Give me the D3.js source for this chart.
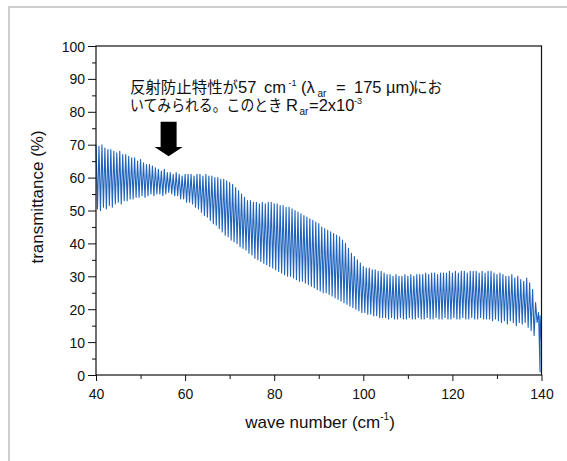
<!DOCTYPE html>
<html>
<head>
<meta charset="utf-8">
<script src="https://cdn.jsdelivr.net/npm/d3@7"></script>
<style>
  body { margin: 0; background: #fff; }
  svg text { font-family: "Liberation Sans", Arial, sans-serif; fill: #111; }
  .jp { font-family: "Noto Sans CJK JP", "Liberation Sans", sans-serif; }
</style>
</head>
<body>
<div id="visual"></div>
<script>
// transmittance spectrum
const xTicks = [40, 60, 80, 100, 120, 140],
      xMinor = [50, 70, 90, 110, 130],
      yTicks = [0, 10, 20, 30, 40, 50, 60, 70, 80, 90, 100],
      yMinor = [5, 15, 25, 35, 45, 55, 65, 75, 85, 95];

// first fringe peak and fringe spacing (cm-1)
const fringeStart = 40,
      fringeStep = 0.6667;

// fringe maxima (%)
const peakT = [
  70, 69.5, 70, 69, 68.5, 68.5, 68, 67.5, 68, 67,
  67, 66.5, 66, 66, 65, 65.5, 64.5, 64, 64, 63.5,
  63, 62.5, 62, 62.5, 61.5, 61.5, 61, 61.5, 61, 60.5,
  61, 61, 61, 60.5, 61, 61, 60.5, 61, 60.5, 60.5,
  60, 60, 59.5, 59.5, 59, 58.5, 58, 57, 56, 55,
  54, 53, 53, 52.5, 52.5, 52, 52.5, 52, 52.5, 52.5,
  52, 52, 51.5, 51.5, 51, 51, 50.5, 50, 49.5, 49,
  48.5, 48, 47.5, 47, 46.5, 46, 45, 44.5, 44, 43.5,
  43, 42.5, 42, 41, 40, 38.5, 37, 36, 35, 34,
  33, 32.5, 32.5, 32, 32, 31.5, 31.5, 31, 30.5, 30.5,
  30, 30.5, 30, 30, 30.5, 30, 30.5, 30, 30.5, 30.5,
  30.5, 31, 30.5, 31, 31, 30.5, 31, 31, 31, 31.5,
  31, 31.5, 31, 31.5, 31.5, 31, 31.5, 31.5, 31.5, 31,
  31.5, 31, 31.5, 31.5, 31, 30.5, 31, 30.5, 30, 30,
  30.5, 29.5, 30, 29, 28.5, 29.5, 28, 26, 22, 19
];

// fringe minima (%), half a fringe after each maximum
const dipT = [
  50.5, 50, 51, 50.5, 51.5, 51, 52, 52.5, 52, 53,
  53, 53.5, 53.5, 54, 54, 54.5, 54, 54.5, 55, 54.5,
  55, 55, 54.5, 55, 55.5, 55, 54.5, 54.5, 53.5, 53.5,
  52.5, 52.5, 52, 51, 50.5, 49.5, 48.5, 48, 47, 46,
  45.5, 44.5, 43.5, 42.5, 42, 41, 40.5, 40, 39, 38.5,
  38, 37, 36.5, 35.5, 35, 34.5, 34, 33.5, 33, 32.5,
  32, 31.5, 31, 30.5, 30, 30, 29.5, 29, 28.5, 28.5,
  28, 27.5, 27, 26.5, 26, 25.5, 25, 25, 24.5, 24,
  23.5, 23, 22.5, 22, 21.5, 21, 20.5, 20, 19.5, 19,
  19, 18.5, 18.5, 18, 18, 17.5, 17.5, 17.5, 17, 17.5,
  17, 17, 17.5, 17, 17, 17.5, 17, 17, 17.5, 17,
  17, 17.5, 17, 17, 17.5, 17, 17, 17.5, 17, 17,
  17.5, 17, 17, 17.5, 17, 17, 17.5, 17, 17, 17.5,
  17, 17, 17, 16.5, 17, 16.5, 16, 16.5, 15.5, 16.5,
  16, 15, 16, 15.5, 16, 14.5, 13.5, 12, 16, 1
];

// last points at the band edge
const tailWn = [139.67, 140],
      tailT = [18, 10];

const width = 567,
      height = 461,
      margin = {top: 46, right: 25.5, bottom: 86, left: 96};

const x = d3.scaleLinear().domain([40, 140]).range([margin.left, width - margin.right]);
const y = d3.scaleLinear().domain([0, 100]).range([height - margin.bottom, margin.top]);

// interleave maxima and minima into one trace
let spectrum = [];
peakT.forEach((p, i) => {
  const wn = fringeStart + i * fringeStep;
  spectrum.push([wn, p]);
  spectrum.push([wn + fringeStep / 2, dipT[i]]);
});
tailWn.forEach((wn, i) => spectrum.push([wn, tailT[i]]));

const svg = d3.select('#visual').append('svg')
  .attr('width', width).attr('height', height);

// scan border
svg.append('path')
  .attr('d', `M9,${height} V7 H${width}`)
  .attr('fill', 'none').attr('stroke', '#cfcfcf').attr('stroke-width', 2);

// trace
svg.append('path')
  .datum(spectrum)
  .attr('fill', 'none')
  .attr('stroke', '#1f63bd')
  .attr('stroke-width', 1.1)
  .attr('stroke-linejoin', 'round')
  .attr('d', d3.line().x(d => x(d[0])).y(d => y(d[1])));

// axes
const xAxis = svg.append('g')
  .attr('transform', `translate(0,${y(0)})`)
  .call(d3.axisBottom(x).tickValues(xTicks).tickSize(6).tickPadding(8));
svg.append('g')
  .attr('transform', `translate(0,${y(0)})`)
  .call(d3.axisBottom(x).tickValues(xMinor).tickSize(4).tickFormat(''));

const yAxis = svg.append('g')
  .attr('transform', `translate(${x(40)},0)`)
  .call(d3.axisLeft(y).tickValues(yTicks).tickSize(8).tickPadding(3));
svg.append('g')
  .attr('transform', `translate(${x(40)},0)`)
  .call(d3.axisLeft(y).tickValues(yMinor).tickSize(4).tickFormat(''));

svg.selectAll('.domain').remove();
svg.selectAll('.tick line').attr('stroke', '#111');
xAxis.selectAll('text').style('font-size', '14px').attr('fill', '#111');
yAxis.selectAll('text').style('font-size', '14px').attr('fill', '#111').attr('dy', '0.36em');

// plot frame
svg.append('rect')
  .attr('x', x(40)).attr('y', y(100))
  .attr('width', x(140) - x(40)).attr('height', y(0) - y(100))
  .attr('fill', 'none').attr('stroke', '#111').attr('stroke-width', 1.2);

// axis titles
const xt = svg.append('text')
  .attr('x', 320).attr('y', 428)
  .attr('text-anchor', 'middle')
  .style('font-size', '17px');
xt.append('tspan').text('wave number (cm');
xt.append('tspan').attr('dy', -8).style('font-size', '10px').text('-1');
xt.append('tspan').attr('dy', 8).text(')');

svg.append('text')
  .attr('transform', 'translate(43,197) rotate(-90)')
  .attr('text-anchor', 'middle')
  .style('font-size', '17px')
  .text('transmittance (%)');

// annotation, pieces placed like the justified original
const note = svg.append('g').style('font-size', '16.5px');
const piece = (str, px, py, opt = {}) => {
  const t = note.append('text').attr('x', px).attr('y', py).text(str);
  if (opt.jp) t.attr('class', 'jp').style('font-size', '15.5px');
  if (opt.small) t.style('font-size', opt.small + 'px');
  if (opt.len) t.attr('textLength', opt.len).attr('lengthAdjust', 'spacingAndGlyphs');
  return t;
};
piece('反射防止特性が', 130, 93, {jp: true, len: 108});
piece('57', 238, 93);
piece('cm', 264, 93);
piece('-1', 288.5, 86, {small: 9});
piece('(λ', 301, 93);
piece('ar', 317.5, 97, {small: 10});
piece('=', 336, 93);
piece('175', 354, 93);
piece('µm)', 386, 93);
piece('にお', 413, 93, {jp: true, len: 29});

piece('いてみられる。このとき', 130, 111, {jp: true, len: 152});
piece('R', 286, 111);
piece('ar', 299.5, 115, {small: 10});
piece('=2x10', 309, 111);
piece('-3', 354, 104, {small: 9});

// arrow pointing at 57 cm-1
const arrowX = x(56.3), arrowTip = y(66.5), arrowTop = y(77), arrowNeck = y(69.3);
svg.append('path')
  .attr('d', `M${arrowX - 8},${arrowTop} H${arrowX + 8} V${arrowNeck} H${arrowX + 14} L${arrowX},${arrowTip} L${arrowX - 14},${arrowNeck} H${arrowX - 8} Z`)
  .attr('fill', '#000');
</script>
</body>
</html>
